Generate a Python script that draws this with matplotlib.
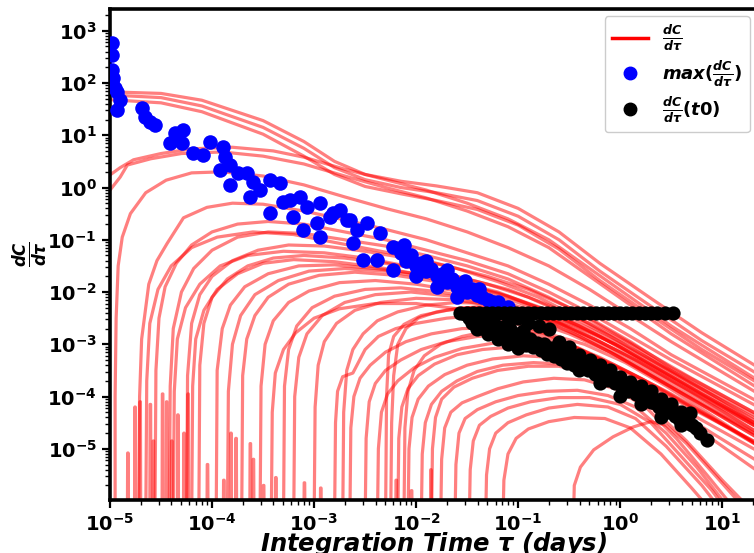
import numpy as np
import matplotlib
matplotlib.use('Agg')
import matplotlib.pyplot as plt
from matplotlib.lines import Line2D
from matplotlib.ticker import LogLocator, NullFormatter

plt.rcParams['font.family'] = ['DejaVu Sans']
plt.rcParams['font.weight'] = 'bold'
plt.rcParams['mathtext.fontset'] = 'custom'
plt.rcParams['mathtext.rm'] = 'DejaVu Sans:bold'
plt.rcParams['mathtext.it'] = 'DejaVu Sans:bold:italic'
plt.rcParams['mathtext.bf'] = 'DejaVu Sans:bold'
plt.rcParams['mathtext.sf'] = 'DejaVu Sans:bold'

# ---------------- data (log10 of tau [days], log10 of dC/dtau) ----------------
top_curves = [
    [(-5, 1.83), (-4.5, 1.8), (-4.1, 1.67), (-3.5, 1.28), (-3.1, 0.88), (-2.8, 0.5), (-2.5, 0.25), (-2.15, 0.12),
     (-1.8, 0.03), (-1.4, -0.1), (-1.0, -0.4), (-0.6, -0.85), (-0.2, -1.45), (0.3, -2.12), (0.8, -2.78), (1.4, -3.5)],
    [(-5, 1.77), (-4.5, 1.72), (-4.1, 1.56), (-3.5, 1.15), (-3.1, 0.75), (-2.8, 0.38), (-2.5, 0.15), (-2.15, 0.0),
     (-1.8, -0.1), (-1.4, -0.25), (-1.0, -0.55), (-0.6, -1.0), (-0.2, -1.6), (0.3, -2.27), (0.8, -2.93), (1.4, -3.63)],
    [(-5, 1.68), (-4.5, 1.62), (-4.1, 1.45), (-3.5, 1.02), (-3.1, 0.6), (-2.8, 0.25), (-2.5, 0.02), (-2.15, -0.12),
     (-1.8, -0.25), (-1.4, -0.42), (-1.0, -0.72), (-0.6, -1.18), (-0.2, -1.78), (0.3, -2.45), (0.8, -3.1), (1.4, -3.8)],
]

left_curves = [
    [(-5, 0.24), (-4.9, 0.38), (-4.77, 0.53), (-4.5, 0.65), (-4.2, 0.74), (-3.8, 0.77), (-3.4, 0.7), (-3.1, 0.58),
     (-2.7, 0.35), (-2.3, 0.15), (-1.9, -0.05), (-1.5, -0.3), (-1.1, -0.6), (-0.7, -1.0), (-0.3, -1.55), (0.1, -2.1),
     (0.5, -2.65), (1.4, -3.75)],
    [(-5, -0.05), (-4.9, 0.2), (-4.83, 0.43), (-4.6, 0.55), (-4.3, 0.65), (-3.9, 0.68), (-3.5, 0.6), (-3.1, 0.45),
     (-2.7, 0.22), (-2.3, 0.0), (-1.9, -0.2), (-1.5, -0.45), (-1.1, -0.75), (-0.7, -1.15), (-0.3, -1.7), (0.1, -2.25),
     (0.5, -2.8), (1.4, -3.9)],
    [(-4.95, -6.5), (-4.95, -4.0), (-4.94, -2.5), (-4.92, -1.5), (-4.88, -0.95), (-4.8, -0.5), (-4.65, -0.1),
     (-4.45, 0.14), (-4.2, 0.28), (-3.9, 0.3), (-3.5, 0.22), (-3.1, 0.05), (-2.7, -0.18), (-2.3, -0.4), (-1.9, -0.6),
     (-1.5, -0.85), (-1.1, -1.15), (-0.7, -1.5), (-0.3, -1.95), (0.1, -2.45), (0.5, -2.95), (1.4, -4.0)],
]

early_risers = [
    [(-4.72, -6.5), (-4.71, -4), (-4.69, -2.9), (-4.62, -1.85), (-4.54, -1.4), (-4.44, -1.07), (-4.28, -0.58),
     (-4.05, -0.38), (-3.8, -0.3), (-3.5, -0.32), (-3.1, -0.45), (-2.7, -0.62), (-2.3, -0.8), (-1.9, -1.0),
     (-1.5, -1.25), (-1.1, -1.5), (-0.7, -1.85), (-0.3, -2.25), (0.1, -2.7), (0.5, -3.2), (1.4, -4.15)],
    [(-4.65, -6.5), (-4.64, -3.7), (-4.61, -2.6), (-4.53, -1.95), (-4.4, -1.5), (-4.2, -1.15), (-3.95, -0.95),
     (-3.6, -0.85), (-3.2, -0.9), (-2.8, -1.05), (-2.4, -1.2), (-2.0, -1.35), (-1.6, -1.55), (-1.2, -1.8),
     (-0.8, -2.1), (-0.4, -2.5), (0.0, -2.95), (0.4, -3.4), (1.4, -4.45)],
    [(-4.56, -6.5), (-4.55, -3.5), (-4.52, -2.5), (-4.46, -1.9), (-4.35, -1.45), (-4.2, -1.1), (-4.0, -0.85),
     (-3.75, -0.7), (-3.45, -0.65), (-3.1, -0.7), (-2.7, -0.85), (-2.3, -1.0), (-1.9, -1.2), (-1.5, -1.4),
     (-1.1, -1.65), (-0.7, -2.0), (-0.3, -2.4), (0.1, -2.85), (0.5, -3.3), (1.4, -4.25)],
    [(-4.42, -6.5), (-4.41, -3.8), (-4.38, -2.7), (-4.3, -2.0), (-4.18, -1.55), (-4.0, -1.2), (-3.75, -0.95),
     (-3.45, -0.85), (-3.1, -0.88), (-2.7, -1.0), (-2.3, -1.12), (-1.9, -1.3), (-1.5, -1.5), (-1.1, -1.75),
     (-0.7, -2.1), (-0.3, -2.5), (0.1, -2.95), (0.5, -3.45), (1.4, -4.4)],
    [(-4.38, -6.5), (-4.37, -3.9), (-4.34, -2.9), (-4.26, -2.3), (-4.12, -1.85), (-3.92, -1.5), (-3.65, -1.3),
     (-3.3, -1.22), (-2.9, -1.25), (-2.5, -1.35), (-2.1, -1.5), (-1.7, -1.65), (-1.3, -1.85), (-0.9, -2.1),
     (-0.5, -2.45), (-0.1, -2.85), (0.3, -3.3), (0.7, -3.75), (1.4, -4.5)],
    [(-4.25, -6.5), (-4.24, -3.6), (-4.2, -2.6), (-4.12, -2.05), (-4.0, -1.7), (-3.8, -1.4), (-3.55, -1.2),
     (-3.25, -1.1), (-2.9, -1.12), (-2.5, -1.22), (-2.1, -1.35), (-1.7, -1.5), (-1.3, -1.7), (-0.9, -1.95),
     (-0.5, -2.3), (-0.1, -2.75), (0.3, -3.2), (0.7, -3.65), (1.4, -4.4)],
    [(-4.2, -6.5), (-4.19, -3.8), (-4.16, -2.9), (-4.08, -2.35), (-3.95, -1.95), (-3.75, -1.65), (-3.5, -1.45),
     (-3.2, -1.38), (-2.8, -1.42), (-2.4, -1.52), (-2.0, -1.65), (-1.6, -1.82), (-1.2, -2.02), (-0.8, -2.3),
     (-0.4, -2.65), (0.0, -3.05), (0.4, -3.5), (0.8, -3.95), (1.4, -4.6)],
    [(-4.13, -6.5), (-4.12, -3.4), (-4.08, -2.6), (-4.0, -2.1), (-3.85, -1.75), (-3.65, -1.5), (-3.4, -1.35),
     (-3.1, -1.3), (-2.7, -1.35), (-2.3, -1.45), (-1.9, -1.58), (-1.5, -1.75), (-1.1, -1.95), (-0.7, -2.25),
     (-0.3, -2.6), (0.1, -3.0), (0.5, -3.5), (1.4, -4.55)],
    [(-3.96, -6.5), (-3.95, -3.5), (-3.9, -2.7), (-3.82, -2.25), (-3.68, -1.9), (-3.45, -1.65), (-3.15, -1.5),
     (-2.8, -1.48), (-2.4, -1.55), (-2.0, -1.65), (-1.6, -1.8), (-1.2, -2.0), (-0.8, -2.3), (-0.4, -2.65),
     (0.0, -3.05), (0.4, -3.5), (0.8, -3.95), (1.4, -4.6)],
    [(-3.85, -6.5), (-3.84, -3.9), (-3.8, -3.0), (-3.72, -2.45), (-3.58, -2.05), (-3.35, -1.78), (-3.05, -1.6),
     (-2.7, -1.55), (-2.3, -1.6), (-1.9, -1.72), (-1.5, -1.88), (-1.1, -2.08), (-0.7, -2.35), (-0.3, -2.7),
     (0.1, -3.1), (0.5, -3.55), (0.9, -4.0), (1.4, -4.6)],
    [(-3.71, -6.5), (-3.7, -3.6), (-3.66, -2.9), (-3.58, -2.45), (-3.45, -2.1), (-3.25, -1.85), (-2.95, -1.68),
     (-2.6, -1.62), (-2.2, -1.68), (-1.8, -1.8), (-1.4, -1.98), (-1.0, -2.2), (-0.6, -2.5), (-0.2, -2.85),
     (0.2, -3.3), (0.6, -3.75), (1.4, -4.65)],
    [(-3.53, -6.5), (-3.52, -3.8), (-3.48, -3.0), (-3.4, -2.55), (-3.25, -2.2), (-3.05, -1.98), (-2.75, -1.82),
     (-2.4, -1.78), (-2.0, -1.85), (-1.6, -1.98), (-1.2, -2.15), (-0.8, -2.4), (-0.4, -2.75), (0.0, -3.15),
     (0.4, -3.6), (0.8, -4.05), (1.4, -4.75)],
    [(-3.3, -6.5), (-3.29, -3.8), (-3.25, -3.1), (-3.17, -2.65), (-3.02, -2.3), (-2.8, -2.08), (-2.5, -1.95),
     (-2.15, -1.92), (-1.75, -2.0), (-1.35, -2.15), (-0.95, -2.35), (-0.55, -2.65), (-0.15, -3.05), (0.25, -3.5),
     (0.65, -3.95), (1.4, -4.8)],
    [(-3.2, -6.5), (-3.19, -4.0), (-3.15, -3.25), (-3.07, -2.8), (-2.92, -2.45), (-2.7, -2.2), (-2.4, -2.05),
     (-2.05, -2.0), (-1.65, -2.08), (-1.25, -2.22), (-0.85, -2.45), (-0.45, -2.8), (-0.05, -3.2), (0.35, -3.65),
     (0.75, -4.1), (1.4, -4.85)],
    [(-3.0, -6.5), (-2.99, -4.2), (-2.96, -3.4), (-2.9, -2.95), (-2.78, -2.6), (-2.6, -2.35), (-2.35, -2.2),
     (-2.0, -2.12), (-1.6, -2.15), (-1.2, -2.28), (-0.8, -2.5), (-0.4, -2.85), (0.0, -3.25), (0.4, -3.7),
     (0.8, -4.15), (1.4, -4.8)],
    [(-3.42, -6.5), (-3.41, -4.3), (-3.38, -3.55), (-3.3, -3.1), (-3.18, -2.78), (-3.0, -2.5), (-2.75, -2.32),
     (-2.4, -2.22), (-2.0, -2.22), (-1.6, -2.32), (-1.2, -2.5), (-0.8, -2.75), (-0.4, -3.08), (0.0, -3.48),
     (0.4, -3.92), (1.4, -4.95)],
]

mid_risers = [
    [(-2.8, -6.5), (-2.79, -4.5), (-2.77, -3.9), (-2.72, -3.62), (-2.62, -3.55), (-2.5, -3.1), (-2.37, -2.85),
     (-2.2, -2.7), (-2.0, -2.6), (-1.7, -2.5), (-1.4, -2.45), (-1.1, -2.48), (-0.8, -2.6), (-0.5, -2.8),
     (-0.1, -3.15), (0.3, -3.6), (0.7, -4.05), (1.4, -4.85)],
    [(-2.72, -6.5), (-2.71, -4.3), (-2.68, -3.5), (-2.62, -3.1), (-2.52, -2.8), (-2.38, -2.55), (-2.18, -2.38),
     (-1.9, -2.25), (-1.6, -2.2), (-1.3, -2.22), (-1.0, -2.32), (-0.65, -2.55), (-0.25, -2.9), (0.15, -3.3),
     (0.55, -3.75), (1.4, -4.65)],
    [(-2.65, -6.5), (-2.64, -4.6), (-2.61, -4.0), (-2.55, -3.65), (-2.45, -3.4), (-2.3, -3.15), (-2.1, -2.95),
     (-1.85, -2.8), (-1.55, -2.7), (-1.25, -2.68), (-0.95, -2.75), (-0.6, -2.92), (-0.2, -3.25), (0.2, -3.65),
     (0.6, -4.1), (1.4, -4.95)],
    [(-2.5, -6.5), (-2.49, -4.8), (-2.46, -4.1), (-2.4, -3.75), (-2.3, -3.5), (-2.15, -3.3), (-1.95, -3.1),
     (-1.7, -2.95), (-1.4, -2.85), (-1.1, -2.82), (-0.8, -2.88), (-0.45, -3.05), (-0.05, -3.4), (0.35, -3.8),
     (0.75, -4.25), (1.4, -5.0)],
    [(-2.38, -6.5), (-2.37, -5.0), (-2.34, -4.3), (-2.28, -3.95), (-2.18, -3.7), (-2.02, -3.45), (-1.82, -3.25),
     (-1.55, -3.08), (-1.25, -2.98), (-0.95, -2.95), (-0.65, -3.0), (-0.3, -3.2), (0.1, -3.55), (0.5, -3.95),
     (0.9, -4.4), (1.4, -5.0)],
    [(-2.3, -6.5), (-2.29, -4.0), (-2.27, -3.2), (-2.22, -2.85), (-2.12, -2.62), (-1.95, -2.45), (-1.7, -2.35),
     (-1.4, -2.28), (-1.1, -2.3), (-0.8, -2.42), (-0.45, -2.65), (-0.05, -3.0), (0.35, -3.45), (0.75, -3.9),
     (1.4, -4.65)],
    [(-2.25, -6.5), (-2.24, -4.5), (-2.22, -3.6), (-2.18, -3.0), (-2.1, -2.7), (-1.98, -2.5), (-1.8, -2.38),
     (-1.55, -2.3), (-1.25, -2.3), (-0.95, -2.38), (-0.6, -2.6), (-0.2, -2.95), (0.2, -3.35), (0.6, -3.8),
     (1.4, -4.75)],
    [(-2.18, -6.5), (-2.17, -4.8), (-2.14, -4.2), (-2.08, -3.85), (-1.98, -3.6), (-1.82, -3.38), (-1.6, -3.2),
     (-1.35, -3.1), (-1.05, -3.05), (-0.75, -3.1), (-0.4, -3.28), (0.0, -3.6), (0.4, -4.0), (0.8, -4.45),
     (1.4, -5.1)],
    [(-2.08, -6.5), (-2.07, -5.0), (-2.04, -4.4), (-1.98, -4.05), (-1.88, -3.8), (-1.72, -3.58), (-1.5, -3.4),
     (-1.25, -3.28), (-0.95, -3.22), (-0.65, -3.25), (-0.3, -3.42), (0.1, -3.75), (0.5, -4.2), (0.9, -4.7),
     (1.4, -5.3)],
    [(-1.95, -6.5), (-1.94, -5.1), (-1.91, -4.5), (-1.85, -4.15), (-1.75, -3.9), (-1.6, -3.7), (-1.4, -3.52),
     (-1.15, -3.4), (-0.85, -3.35), (-0.55, -3.38), (-0.2, -3.55), (0.2, -3.9), (0.6, -4.4), (1.0, -4.95),
     (1.4, -5.5)],
    [(-2.12, -6.5), (-2.11, -4.6), (-2.08, -3.9), (-2.02, -3.5), (-1.92, -3.22), (-1.76, -3.0), (-1.55, -2.85),
     (-1.3, -2.75), (-1.0, -2.72), (-0.7, -2.8), (-0.35, -3.0), (0.05, -3.35), (0.45, -3.8), (0.85, -4.3),
     (1.4, -5.0)],
]

late_risers = [
    [(-1.85, -6.5), (-1.84, -5.0), (-1.81, -4.4), (-1.75, -4.05), (-1.63, -3.82), (-1.45, -3.65), (-1.2, -3.5),
     (-0.9, -3.42), (-0.6, -3.42), (-0.3, -3.55), (0.0, -3.8), (0.3, -4.2), (0.65, -4.85), (1.0, -5.6),
     (1.25, -6.1)],
    [(-1.76, -6.5), (-1.75, -5.2), (-1.72, -4.6), (-1.66, -4.3), (-1.55, -4.12), (-1.4, -4.0), (-1.2, -3.85),
     (-0.95, -3.72), (-0.65, -3.65), (-0.35, -3.68), (-0.05, -3.85), (0.25, -4.2), (0.55, -4.8), (0.85, -5.5),
     (1.1, -6.1)],
    [(-1.62, -6.5), (-1.61, -5.3), (-1.58, -4.7), (-1.52, -4.42), (-1.4, -4.25), (-1.22, -4.1), (-1.0, -3.98),
     (-0.72, -3.9), (-0.42, -3.88), (-0.12, -3.98), (0.15, -4.2), (0.45, -4.7), (0.75, -5.35), (1.05, -6.1)],
    [(-1.48, -6.5), (-1.47, -5.4), (-1.44, -4.85), (-1.38, -4.55), (-1.27, -4.38), (-1.1, -4.22), (-0.88, -4.1),
     (-0.6, -4.02), (-0.3, -4.02), (0.0, -4.15), (0.3, -4.5), (0.6, -5.15), (0.9, -5.8), (1.05, -6.2)],
    [(-1.32, -6.5), (-1.31, -5.5), (-1.28, -5.0), (-1.22, -4.7), (-1.1, -4.5), (-0.92, -4.35), (-0.7, -4.22),
     (-0.42, -4.15), (-0.12, -4.2), (0.15, -4.42), (0.45, -4.95), (0.8, -5.7), (1.0, -6.2)],
    [(-1.15, -6.5), (-1.14, -5.6), (-1.1, -5.1), (-1.02, -4.8), (-0.9, -4.62), (-0.7, -4.48), (-0.45, -4.4),
     (-0.15, -4.42), (0.1, -4.6), (0.4, -5.1), (0.7, -5.75), (0.9, -6.2)],
    [(-0.46, -6.5), (-0.45, -5.7), (-0.39, -5.35), (-0.26, -5.02), (-0.07, -4.77), (0.13, -4.58), (0.3, -4.48),
     (0.45, -4.55), (0.65, -4.9), (0.95, -5.55), (1.2, -6.1)],
]

spike_x_log = [-4.83, -4.76, -4.71, -4.61, -4.58, -4.49, -4.45, -4.4, -4.34, -4.28, -4.24, -4.05, -3.89,
               -3.82, -3.77, -3.63, -3.6, -3.5, -3.38, -3.1, -2.94, -2.2, -2.05, -1.86]
spike_top_log = [-5.08, -4.2, -4.1, -4.15, -4.85, -3.95, -4.1, -4.85, -4.35, -4.7, -3.95, -5.3, -5.6,
                 -4.7, -4.8, -4.9, -5.2, -5.7, -5.55, -5.65, -5.75, -5.6, -5.8, -5.4]

blue_points_log = [
    (-4.98, 2.76), (-4.98, 2.54), (-4.98, 2.25), (-4.98, 2.0), (-4.93, 1.83), (-4.90, 1.68), (-4.93, 1.48),
    (-4.97, 2.1), (-4.95, 1.9), (-4.69, 1.52), (-4.66, 1.35), (-4.61, 1.25), (-4.56, 1.2), (-4.41, 0.85),
    (-4.36, 1.04), (-4.28, 1.1), (-4.29, 0.85), (-4.19, 0.66), (-4.09, 0.62), (-4.02, 0.87), (-3.89, 0.78),
    (-3.87, 0.58), (-3.82, 0.43), (-3.92, 0.34), (-3.82, 0.05), (-3.75, 0.28), (-3.66, 0.28), (-3.60, 0.11),
    (-3.63, -0.18), (-3.53, -0.05), (-3.43, 0.15), (-3.33, 0.09), (-3.43, -0.49), (-3.30, -0.28), (-3.24, -0.24),
    (-3.14, -0.18), (-3.07, -0.37), (-2.94, -0.30), (-3.21, -0.57), (-3.11, -0.81), (-2.97, -0.68),
    (-2.81, -0.49), (-2.75, -0.43), (-2.68, -0.62), (-2.58, -0.81), (-2.48, -0.68), (-2.35, -0.87),
    (-2.23, -1.14), (-2.62, -1.06), (-2.52, -1.38), (-2.38, -1.38), (-2.23, -1.58), (-2.94, -0.95),
    (-2.84, -0.57), (-2.65, -0.62), (-2.15, -1.25), (-2.1, -1.4), (-2.05, -1.3), (-2.0, -1.5), (-1.95, -1.45),
    (-1.9, -1.6), (-1.85, -1.55), (-1.8, -1.7), (-1.75, -1.65), (-1.7, -1.8), (-1.65, -1.75), (-1.6, -1.9),
    (-1.55, -1.85), (-1.5, -2.0), (-1.45, -1.95), (-1.4, -2.05), (-1.35, -2.1), (-1.3, -2.15), (-1.25, -2.2),
    (-1.2, -2.2), (-1.15, -2.3), (-1.1, -2.28), (-2.0, -1.7), (-1.8, -1.9), (-1.6, -2.1), (-1.9, -1.4),
    (-1.7, -1.58), (-2.12, -1.1), (-1.52, -1.78), (-1.38, -1.95),
]

black_row_x_log = [-1.57, -1.5, -1.44, -1.38, -1.32, -1.26, -1.2, -1.14, -1.08, -1.02, -0.96, -0.9, -0.84,
                   -0.78, -0.72, -0.66, -0.6, -0.54, -0.48, -0.42, -0.36, -0.3, -0.24, -0.18, -0.12, -0.06,
                   0.0, 0.06, 0.12, 0.18, 0.24, 0.3, 0.36, 0.44, 0.52]
black_row_y_log = [-2.4, -2.4, -2.4, -2.4, -2.4, -2.4, -2.4, -2.4, -2.4, -2.4, -2.4, -2.4, -2.4,
                   -2.4, -2.4, -2.4, -2.4, -2.4, -2.4, -2.4, -2.4, -2.4, -2.4, -2.4, -2.4, -2.4,
                   -2.4, -2.4, -2.4, -2.4, -2.4, -2.4, -2.4, -2.4, -2.4]

black_band_log = [
    (-1.52, -2.42), (-1.48, -2.5), (-1.45, -2.6), (-1.42, -2.48), (-1.38, -2.55), (-1.35, -2.68), (-1.32, -2.6),
    (-1.28, -2.72), (-1.25, -2.58), (-1.22, -2.8), (-1.18, -2.66), (-1.15, -2.75), (-1.12, -2.85), (-1.08, -2.7),
    (-1.05, -2.92), (-1.02, -2.8), (-0.98, -2.95), (-0.95, -2.88), (-0.92, -3.02), (-0.88, -2.9), (-0.85, -3.05),
    (-0.82, -2.98), (-0.78, -3.1), (-0.75, -3.0), (-0.72, -3.18), (-0.68, -3.08), (-0.65, -3.22), (-0.62, -3.15),
    (-0.58, -3.28), (-0.55, -3.2), (-0.52, -3.35), (-0.48, -3.25), (-0.45, -3.4), (-0.42, -3.3), (-0.38, -3.45),
    (-0.35, -3.38), (-0.32, -3.5), (-0.28, -3.42), (-0.25, -3.56), (-0.22, -3.5), (-0.18, -3.62), (-0.15, -3.55),
    (-0.12, -3.68), (-0.08, -3.62), (-0.05, -3.75), (-0.02, -3.7), (0.02, -3.82), (0.05, -3.76), (0.08, -3.9),
    (0.12, -3.85), (0.15, -3.95), (0.18, -3.92), (0.22, -4.02), (0.26, -4.0), (0.3, -4.1), (0.34, -4.12),
    (0.38, -4.2), (0.42, -4.22), (0.46, -4.3), (0.5, -4.3), (0.54, -4.38), (0.58, -4.42), (0.62, -4.46),
    (0.66, -4.5), (0.7, -4.55), (0.74, -4.6), (0.85, -4.83),
    (-1.45, -2.45), (-1.4, -2.7), (-1.3, -2.8), (-1.2, -2.9), (-1.1, -3.0), (-1.0, -3.08), (-0.9, -2.6),
    (-0.8, -2.65), (-0.7, -2.7), (-0.6, -2.95), (-0.5, -3.05), (-0.4, -3.2), (-0.3, -3.3), (-0.2, -3.4),
    (-0.1, -3.5), (0.0, -3.62), (0.1, -3.72), (0.2, -3.8), (0.3, -3.9), (0.4, -4.05), (0.5, -4.15),
    (0.6, -4.3), (0.68, -4.32), (-1.1, -2.6), (-1.25, -2.65), (-1.0, -2.5), (-0.95, -2.75), (-0.4, -3.5),
    (-0.2, -3.75), (0.0, -3.98), (0.2, -4.15), (0.4, -4.4), (0.6, -4.55), (0.78, -4.7),
]

legend_labels = [r'$\frac{dC}{d\tau}$', r'$max(\frac{dC}{d\tau})$', r'$\frac{dC}{d\tau}(t0)$']
x_label = r'Integration Time $\tau$ (days)'
y_label = r'$\frac{dC}{d\tau}$'

# ---------------- drawing ----------------
fig = plt.figure(figsize=(7.54, 5.53), dpi=100)
ax = fig.add_axes([0.1459, 0.0967, 0.858, 0.887])
ax.set_xscale('log')
ax.set_yscale('log')

red_kw = dict(color='red', alpha=0.5, lw=2.3, solid_joinstyle='round', solid_capstyle='round')
for group in (top_curves, left_curves, early_risers, mid_risers, late_risers):
    for curve in group:
        xs = np.power(10.0, [p[0] for p in curve])
        ys = np.power(10.0, [p[1] for p in curve])
        ax.plot(xs, ys, **red_kw)

for sx, st in zip(spike_x_log, spike_top_log):
    ax.plot(np.power(10.0, [sx, sx + 0.003, sx + 0.008, sx + 0.011]),
            np.power(10.0, [-6.5, st, st, -6.5]), **red_kw)

bpts = np.array(blue_points_log)
ax.scatter(10 ** bpts[:, 0], 10 ** bpts[:, 1], s=110, color='blue', linewidths=0, zorder=3)
ax.scatter(10 ** np.array(black_row_x_log), 10 ** np.array(black_row_y_log), s=105, color='black',
           linewidths=0, zorder=4)
kpts = np.array(black_band_log)
ax.scatter(10 ** kpts[:, 0], 10 ** kpts[:, 1], s=105, color='black', linewidths=0, zorder=4)

ax.set_xlim(1e-5, 10 ** 1.34)
ax.set_ylim(10 ** -5.97, 10 ** 3.415)

for axis in (ax.xaxis, ax.yaxis):
    axis.set_major_locator(LogLocator(base=10, numticks=30))
    axis.set_minor_locator(LogLocator(base=10, subs=np.arange(2, 10), numticks=200))
    axis.set_minor_formatter(NullFormatter())

ax.tick_params(which='major', length=6, width=1.6, labelsize=14)
ax.tick_params(which='minor', length=3.5, width=1.0)
for lab in ax.get_xticklabels() + ax.get_yticklabels():
    lab.set_fontweight('bold')
for sp in ax.spines.values():
    sp.set_linewidth(2.6)

ax.set_xlabel(x_label, fontsize=17.5, fontweight='bold', fontstyle='italic', labelpad=-3)
ax.set_ylabel(y_label, fontsize=17, labelpad=-2)

handles = [Line2D([], [], color='red', lw=2.5),
           Line2D([], [], marker='o', ls='', color='blue', ms=9),
           Line2D([], [], marker='o', ls='', color='black', ms=9)]
ax.legend(handles, legend_labels, loc='upper right', fontsize=13, framealpha=1.0,
          handlelength=2.0, labelspacing=0.35, borderaxespad=0.4)

fig.savefig('out.png', dpi=100)
